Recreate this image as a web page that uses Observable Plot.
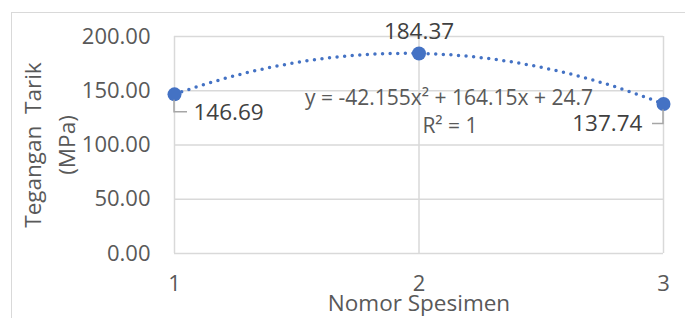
<!DOCTYPE html>
<html>
<head>
<meta charset="utf-8">
<script src="https://cdn.jsdelivr.net/npm/d3@7"></script>
<script src="https://cdn.jsdelivr.net/npm/@observablehq/plot@0.6"></script>
<style>
  html, body { margin: 0; padding: 0; background: #fff; }
  #wrap { position: relative; width: 685px; height: 318px; overflow: hidden; }
  #border { position: absolute; left: 11px; top: 12px; width: 700px; height: 340px;
            border: 1.5px solid #d9d9d9; pointer-events: none; box-sizing: border-box; }
</style>
</head>
<body>
<div id="wrap"><div id="border"></div></div>
<script>
// Data
const specimens = [1, 2, 3];
const stress = [146.69, 184.37, 137.74];
const yTicks = [0, 50, 100, 150, 200];
const xTicks = [1, 2, 3];
const trendCoeffs = [-42.155, 164.15, 24.7]; // from the displayed trendline equation
const equationText = "y = -42.155x² + 164.15x + 24.7";
const r2Text = "R² = 1";
const xTitle = "Nomor Spesimen";
const yTitle = "Tegangan\u00a0 Tarik\n(MPa)";

const points = specimens.map((s, i) => ({x: s, y: stress[i], label: stress[i].toFixed(2)}));
const trend = d3.range(1, 3.0001, 0.02).map(x => ({x, y: trendCoeffs[0]*x*x + trendCoeffs[1]*x + trendCoeffs[2]}));

const blue = "#4472C4";
const grid = "#d9d9d9";
const font = "Open Sans, sans-serif";

const plot = Plot.plot({
  width: 685,
  height: 318,
  marginLeft: 174,
  marginRight: 22,
  marginTop: 36,
  marginBottom: 65,
  style: {fontFamily: font, fontSize: "22px", color: "#595959", background: "transparent", overflow: "visible"},
  x: {domain: [1, 3], ticks: xTicks, tickFormat: d => String(d), tickSize: 0, tickPadding: 22, label: null},
  y: {domain: [0, 200], ticks: yTicks, tickFormat: d => d.toFixed(2), tickSize: 0, tickPadding: 24, label: null},
  marks: [
    Plot.ruleY(yTicks, {stroke: grid, strokeWidth: 1.5}),
    Plot.ruleX(xTicks, {stroke: grid, strokeWidth: 1.5}),
    Plot.line(trend, {x: "x", y: "y", stroke: blue, strokeWidth: 3.5, strokeDasharray: "0,7.6", strokeLinecap: "round"}),
    Plot.dot(points, {x: "x", y: "y", r: 7, fill: blue}),
    Plot.text(points.filter(d => d.x === 1), {x: "x", y: "y", text: "label", textAnchor: "start", dx: 19, dy: 18, fontSize: 22.5, fill: "#404040"}),
    Plot.text(points.filter(d => d.x === 2), {x: "x", y: "y", text: "label", textAnchor: "middle", dx: 0, dy: -22, fontSize: 22.5, fill: "#404040"}),
    Plot.text(points.filter(d => d.x === 3), {x: "x", y: "y", text: "label", textAnchor: "end", dx: -21, dy: 20, fontSize: 22.5, fill: "#404040"}),
    Plot.text([equationText], {frameAnchor: "top", lineAnchor: "middle", dx: 30, dy: 62, fontSize: 21, fill: "#595959"}),
    Plot.text([r2Text], {frameAnchor: "top", lineAnchor: "middle", dx: 31, dy: 90, fontSize: 21, fill: "#595959"}),
    Plot.text([xTitle], {frameAnchor: "bottom", lineAnchor: "middle", dy: 50, fontSize: 22.5, fill: "#595959"}),
    Plot.text([yTitle], {frameAnchor: "left", textAnchor: "middle", dx: -127, rotate: -90, lineHeight: 1.5, fontSize: 22.5, fill: "#595959"})
  ]
});

// Leader lines for the side data labels, positioned via the plot's scales
const sx = plot.scale("x"), sy = plot.scale("y");
const svg = d3.select(plot);
const leaders = [
  {d: points[0], dir: 1, down: 18, across: 13},
  {d: points[2], dir: -1, down: 20, across: 11}
];
for (const l of leaders) {
  const px = sx.apply(l.d.x), py = sy.apply(l.d.y);
  svg.append("path")
    .attr("d", `M${px},${py + 6}V${py + l.down}H${px + l.dir * l.across}`)
    .attr("fill", "none").attr("stroke", "#a6a6a6").attr("stroke-width", 1.5);
}
// keep dots above leader lines
svg.selectAll("circle").raise();

document.getElementById("wrap").prepend(plot);
</script>
</body>
</html>
